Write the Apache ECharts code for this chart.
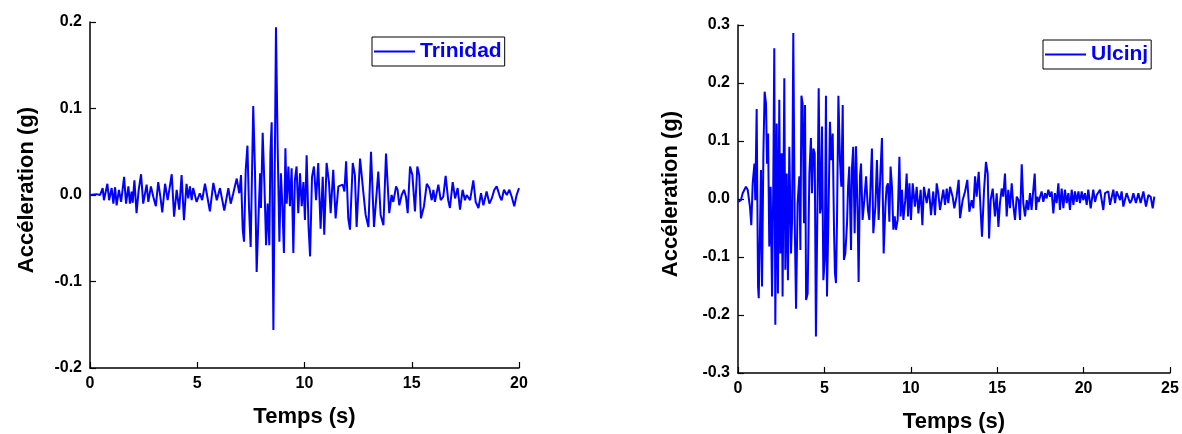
<!DOCTYPE html>
<html>
<head>
<meta charset="utf-8">
<script src="https://cdn.jsdelivr.net/npm/echarts@6/dist/echarts.min.js"></script>
<style>html,body{margin:0;padding:0;background:#fff}#c{width:1182px;height:434px}</style>
</head>
<body>
<div id="c"></div>
<script>
// ---- Data ----
const seriesNames = ['Trinidad', 'Ulcinj'];
const xTitle = 'Temps (s)';
const yTitle = 'Accéleration (g)';

const trinidadT = [0,0.3,0.47,0.59,0.65,0.81,0.89,1.01,1.09,1.17,1.24,1.35,1.45,1.59,1.68,1.79,1.86,1.94,1.99,2.07,2.17,2.27,2.38,2.48,2.64,2.72,2.84,2.95,3.07,3.18,3.28,3.37,3.50,3.62,3.71,3.81,3.92,4.04,4.16,4.27,4.38,4.50,4.58,4.66,4.74,4.81,4.97,5.12,5.23,5.36,5.47,5.59,5.75,5.91,6.06,6.26,6.45,6.56,6.68,6.76,6.84,6.96,7.04,7.12,7.18,7.26,7.34,7.41,7.49,7.61,7.69,7.77,7.85,7.93,7.97,8.05,8.13,8.21,8.28,8.36,8.41,8.47,8.55,8.67,8.75,8.83,8.90,8.97,9.04,9.11,9.17,9.25,9.32,9.40,9.48,9.55,9.63,9.71,9.79,9.87,9.95,10.02,10.10,10.19,10.26,10.35,10.44,10.54,10.64,10.75,10.85,10.92,11.03,11.14,11.22,11.34,11.45,11.58,11.65,11.78,11.86,11.94,12.04,12.12,12.25,12.35,12.43,12.59,12.74,12.85,12.98,13.10,13.24,13.44,13.55,13.68,13.80,13.95,14.06,14.14,14.27,14.34,14.42,14.53,14.64,14.73,14.81,14.92,15.03,15.15,15.26,15.35,15.43,15.57,15.70,15.82,15.93,16.01,16.08,16.24,16.35,16.47,16.58,16.70,16.78,16.91,17.02,17.14,17.25,17.37,17.48,17.56,17.72,17.87,17.98,18.11,18.23,18.34,18.49,18.62,18.73,18.85,18.96,19.11,19.19,19.30,19.43,19.55,19.66,19.78,19.89,20.0];
const trinidadA = [0,0.001,0,0.008,-0.006,0.013,-0.006,0.008,-0.010,0.009,-0.012,0.006,-0.008,0.021,-0.010,0.010,-0.010,0.004,-0.009,0.017,-0.021,0.006,0.024,-0.010,0.012,-0.008,0.010,-0.002,-0.013,0.015,-0.002,-0.020,0.013,-0.006,0.008,0.024,-0.025,0.006,-0.017,0.023,-0.029,0.013,-0.004,0.010,-0.006,0.008,-0.008,0.002,-0.006,0.013,-0.002,-0.019,0.014,-0.006,0.008,-0.018,0.008,-0.010,0.002,0.000,0.019,0.002,0.023,-0.040,-0.054,0.029,0.057,-0.013,-0.060,0.103,0.029,-0.089,-0.029,0.025,-0.015,0.072,0.013,-0.058,-0.010,-0.058,0.048,0.084,-0.156,0.194,0.054,-0.054,0.025,-0.013,-0.067,0.054,-0.010,0.033,-0.013,0.031,-0.067,0.017,0.033,-0.021,0.025,-0.013,0.015,-0.029,0.046,-0.037,-0.071,0.021,0.033,-0.006,0.037,-0.039,0.021,-0.046,0.037,0.015,-0.021,0.029,-0.027,0.010,0.008,0.012,0.004,0.039,-0.027,-0.040,0.037,0.023,-0.037,0.042,0.004,-0.023,-0.037,0.050,-0.037,0.027,-0.023,-0.035,0.048,-0.021,0.000,-0.008,0.010,0.006,-0.012,0.000,0.006,-0.002,-0.021,0.033,0.023,-0.019,0.033,0.023,-0.027,-0.013,0.013,0.008,-0.006,0.006,-0.008,0.012,-0.006,-0.002,0.022,-0.006,-0.015,0.015,-0.004,0.008,-0.017,0.006,-0.006,0.000,-0.006,0.017,-0.008,-0.015,0.002,-0.012,0.004,-0.010,-0.004,0.006,0.010,-0.002,-0.006,0.006,0.000,0.006,-0.002,-0.013,0.000,0.008];

const ulcinjT = [0,0.04,0.17,0.27,0.37,0.46,0.56,0.62,0.69,0.77,0.85,0.95,1.00,1.08,1.16,1.20,1.27,1.33,1.39,1.47,1.54,1.62,1.68,1.74,1.81,1.89,1.97,2.04,2.10,2.16,2.24,2.31,2.39,2.45,2.53,2.58,2.68,2.74,2.82,2.89,2.97,3.07,3.13,3.20,3.28,3.36,3.45,3.55,3.61,3.67,3.74,3.82,3.88,3.94,4.03,4.13,4.22,4.28,4.36,4.44,4.51,4.61,4.67,4.75,4.80,4.86,4.94,5.02,5.09,5.15,5.25,5.32,5.40,5.48,5.56,5.61,5.67,5.73,5.81,5.90,5.98,6.06,6.13,6.21,6.31,6.37,6.44,6.54,6.60,6.67,6.75,6.83,6.93,6.98,7.06,7.12,7.21,7.31,7.41,7.52,7.60,7.68,7.75,7.83,7.95,8.04,8.14,8.24,8.33,8.43,8.53,8.60,8.68,8.76,8.83,8.91,8.99,9.07,9.14,9.24,9.34,9.41,9.49,9.57,9.68,9.76,9.84,9.92,10.01,10.11,10.24,10.34,10.44,10.57,10.67,10.76,10.92,11.05,11.17,11.30,11.40,11.50,11.59,11.69,11.88,11.98,12.08,12.17,12.27,12.42,12.52,12.65,12.77,12.85,13.00,13.14,13.27,13.39,13.52,13.62,13.72,13.81,13.93,14.04,14.12,14.24,14.35,14.45,14.53,14.62,14.74,14.87,14.97,15.07,15.16,15.26,15.35,15.45,15.55,15.64,15.74,15.84,15.93,16.03,16.13,16.24,16.32,16.42,16.51,16.61,16.71,16.80,16.90,16.99,17.09,17.17,17.25,17.32,17.40,17.48,17.57,17.67,17.77,17.86,17.96,18.06,18.15,18.25,18.34,18.44,18.54,18.63,18.73,18.83,18.92,19.02,19.12,19.21,19.31,19.41,19.50,19.60,19.70,19.79,19.89,19.98,20.08,20.18,20.27,20.41,20.56,20.66,20.76,20.95,21.14,21.24,21.43,21.53,21.72,21.82,21.91,22.11,22.20,22.30,22.49,22.69,22.78,22.88,23.03,23.17,23.30,23.46,23.61,23.75,23.88,24.00,24.09];
const ulcinjA = [-0.005,-0.007,-0.002,0.010,0.007,0.021,0.016,0.013,-0.013,-0.045,0.027,0.061,-0.002,0.155,-0.151,-0.171,-0.059,0.050,-0.151,0.079,0.185,0.165,0.061,0.113,-0.082,0.021,-0.168,0.021,0.260,-0.217,0.130,-0.163,0.171,-0.094,0.079,-0.168,0.208,-0.122,0.044,-0.140,0.090,-0.094,-0.036,0.286,-0.036,-0.189,-0.007,0.039,-0.088,0.178,0.165,-0.042,0.162,-0.174,-0.163,0.044,0.105,0.010,0.087,0.079,-0.237,0.021,0.191,-0.025,-0.013,0.125,-0.140,-0.105,0.178,-0.168,-0.002,0.133,0.067,0.113,-0.059,-0.128,-0.145,-0.036,0.178,0.067,0.021,0.162,-0.105,-0.094,-0.042,0.021,0.056,-0.088,0.056,0.090,-0.059,0.091,-0.036,-0.143,0.039,0.061,-0.036,-0.002,0.039,-0.019,-0.036,0.033,0.087,-0.059,-0.013,0.067,-0.036,0.044,0.105,-0.094,-0.013,0.021,0.027,-0.039,0.056,0.021,-0.053,-0.030,-0.053,-0.036,0.073,-0.030,0.016,-0.036,-0.002,0.044,-0.030,0.027,-0.036,0.027,-0.013,0.021,-0.025,0.016,-0.045,0.021,-0.007,0.018,-0.028,0.013,-0.028,0.027,0.010,-0.019,0.016,-0.010,0.018,-0.007,0.021,0.004,-0.016,0.004,0.033,-0.033,-0.002,0.013,0.033,-0.022,-0.002,-0.016,0.039,0.004,0.047,-0.019,-0.065,0.016,0.064,0.044,-0.068,-0.002,0.018,-0.030,0.010,-0.048,-0.007,0.018,0.004,0.044,-0.030,0.016,-0.016,0.027,-0.010,-0.036,0.004,-0.002,-0.036,0.060,-0.007,-0.030,-0.002,-0.019,0.010,-0.019,0.016,0.044,-0.019,0.004,-0.005,0.004,0.013,-0.005,0.010,0.001,0.016,0.004,0.013,-0.025,0.010,-0.007,0.027,-0.019,0.018,-0.016,0.016,-0.007,0.010,-0.019,0.016,-0.010,0.013,-0.005,0.013,-0.007,0.013,-0.002,0.010,-0.010,0.016,-0.016,0.016,-0.005,0.007,0.016,-0.019,0.010,0.013,-0.010,0.016,-0.007,0.013,-0.002,0.013,-0.013,0.010,-0.007,-0.002,0.010,-0.007,0.010,-0.007,0.013,-0.013,0.007,0.004,-0.016,0.004];

const leftXTicks = {min: 0, max: 20, interval: 5};
const leftYTicks = {min: -0.2, max: 0.2, interval: 0.1};
const rightXTicks = {min: 0, max: 25, interval: 5};
const rightYTicks = {min: -0.3, max: 0.3, interval: 0.1};

// ---- Build chart ----
const FONT = 'Liberation Sans, Arial, sans-serif';
const BLUE = '#0000ff';
function pairs(t, a) { return t.map((v, i) => [v, a[i]]); }

function xAxisCfg(idx, ticks, gap) {
  return {
    gridIndex: idx, type: 'value', min: ticks.min, max: ticks.max, interval: ticks.interval,
    name: xTitle, nameLocation: 'middle', nameGap: gap,
    nameTextStyle: {fontFamily: FONT, fontWeight: 'bold', fontSize: 22, color: '#000'},
    axisLine: {show: true, onZero: false, lineStyle: {color: '#000', width: 1.5}},
    axisTick: {show: true, inside: true, length: 6, lineStyle: {color: '#000', width: 1.2}},
    axisLabel: {fontFamily: FONT, fontWeight: 'bold', fontSize: 16, color: '#000', margin: 8},
    splitLine: {show: false}
  };
}
function yAxisCfg(idx, ticks, gap) {
  return {
    gridIndex: idx, type: 'value', min: ticks.min, max: ticks.max, interval: ticks.interval,
    name: yTitle, nameLocation: 'middle', nameGap: gap,
    nameTextStyle: {fontFamily: FONT, fontWeight: 'bold', fontSize: 22, color: '#000', padding: [0, 0, 0, 10]},
    axisLine: {show: true, onZero: false, lineStyle: {color: '#000', width: 1.5}},
    axisTick: {show: true, inside: true, length: 6, lineStyle: {color: '#000', width: 1.2}},
    axisLabel: {fontFamily: FONT, fontWeight: 'bold', fontSize: 16, color: '#000', margin: 8,
      formatter: v => v.toFixed(1)},
    splitLine: {show: false}
  };
}
function legendCfg(name, left, top) {
  return {
    data: [name], left: left, top: top, orient: 'horizontal',
    icon: 'rect', itemWidth: 41, itemHeight: 2, itemGap: 0,
    borderColor: '#000', borderWidth: 1, padding: [4, 3, 4, 2],
    textStyle: {fontFamily: FONT, fontWeight: 'bold', fontSize: 21, color: BLUE, padding: [0, 0, 0, 0]},
    selectedMode: false
  };
}

const chart = echarts.init(document.getElementById('c'), null, {renderer: 'canvas'});
chart.setOption({
  animation: false,
  backgroundColor: '#fff',
  grid: [
    {left: 90, top: 22, width: 429, height: 346, containLabel: false, outerBoundsMode: 'none'},
    {left: 738, top: 25, width: 432, height: 348, containLabel: false, outerBoundsMode: 'none'}
  ],
  xAxis: [xAxisCfg(0, leftXTicks, 38), xAxisCfg(1, rightXTicks, 38)],
  yAxis: [yAxisCfg(0, leftYTicks, 52), yAxisCfg(1, rightYTicks, 56)],
  legend: [legendCfg(seriesNames[0], 372, 37), legendCfg(seriesNames[1], 1043, 40)],
  series: [
    {name: seriesNames[0], type: 'line', xAxisIndex: 0, yAxisIndex: 0, data: pairs(trinidadT, trinidadA),
     symbol: 'none', lineStyle: {color: BLUE, width: 2}, itemStyle: {color: BLUE}},
    {name: seriesNames[1], type: 'line', xAxisIndex: 1, yAxisIndex: 1, data: pairs(ulcinjT, ulcinjA),
     symbol: 'none', lineStyle: {color: BLUE, width: 2}, itemStyle: {color: BLUE}}
  ]
});
</script>
</body>
</html>
